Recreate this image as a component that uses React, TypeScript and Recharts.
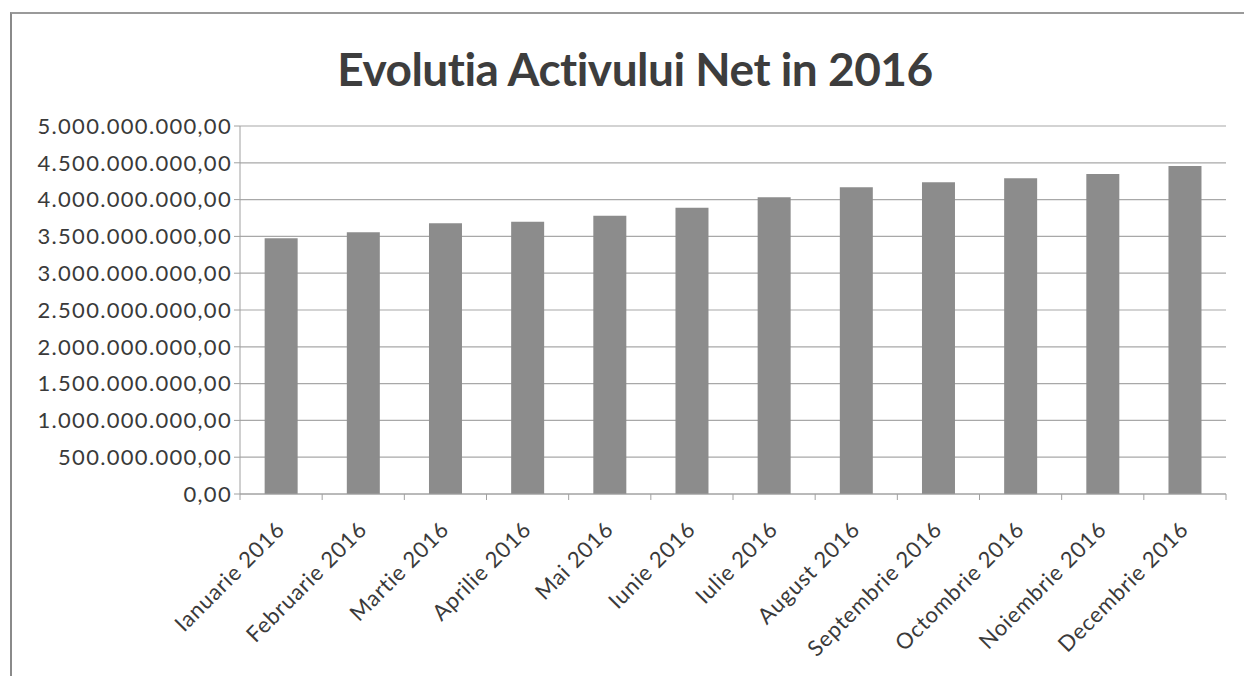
import { BarChart, Bar, XAxis, YAxis, CartesianGrid } from "recharts"

const months = [
  "Ianuarie 2016",
  "Februarie 2016",
  "Martie 2016",
  "Aprilie 2016",
  "Mai 2016",
  "Iunie 2016",
  "Iulie 2016",
  "August 2016",
  "Septembrie 2016",
  "Octombrie 2016",
  "Noiembrie 2016",
  "Decembrie 2016",
]

const activNet = [
  3474000000, 3556000000, 3678000000, 3700000000, 3781000000, 3890000000,
  4031000000, 4167000000, 4235000000, 4289000000, 4348000000, 4457000000,
]

const yTicks = [
  0, 500000000, 1000000000, 1500000000, 2000000000, 2500000000,
  3000000000, 3500000000, 4000000000, 4500000000, 5000000000,
]

const data = months.map((m, i) => ({ month: m, value: activNet[i] }))

function formatRo(v: number) {
  const whole = Math.round(v)
    .toString()
    .replace(/\B(?=(\d{3})+(?!\d))/g, ".")
  return `${whole},00`
}

const FONT = "Lato, 'Open Sans', sans-serif"
const W = 1244
const H = 676
const MARGIN = { top: 126, right: 18, bottom: 12, left: 10 }
const Y_AXIS_W = 230
// half of one category band, for the tick marks between categories
const HALF_BAND = (W - MARGIN.left - MARGIN.right - Y_AXIS_W) / months.length / 2

function MonthTick(props: any) {
  const { x, y, payload, index } = props
  const last = index === months.length - 1
  return (
    <g>
      <line x1={x - HALF_BAND} x2={x - HALF_BAND} y1={y - 8} y2={y - 2} stroke="#a0a0a0" />
      {last && (
        <line x1={x + HALF_BAND} x2={x + HALF_BAND} y1={y - 8} y2={y - 2} stroke="#a0a0a0" />
      )}
      <g transform={`translate(${x + 5},${y + 29})`}>
        <text
          x={0}
          y={0}
          textAnchor="end"
          transform="rotate(-45)"
          fontFamily={FONT}
          fontSize={22}
          letterSpacing={0.8}
          fill="#3a3a3a"
        >
          {payload.value}
        </text>
      </g>
    </g>
  )
}

export default function App() {
  return (
    <div
      style={{
        position: "absolute",
        left: 0,
        top: 0,
        width: W,
        height: H,
        background: "#fff",
        overflow: "hidden",
      }}
    >
      <div
        style={{
          position: "absolute",
          left: 10,
          top: 12,
          width: 1240,
          height: 680,
          borderLeft: "2px solid #8a8a8a",
          borderTop: "2px solid #9a9a9a",
        }}
      />
      <div
        style={{
          position: "absolute",
          left: 0,
          top: 41,
          width: 1270,
          textAlign: "center",
          fontFamily: FONT,
          fontWeight: 700,
          fontSize: 46,
          color: "#3d3d3d",
          letterSpacing: -0.5,
        }}
      >
        Evolutia Activului Net in 2016
      </div>
      <div style={{ position: "absolute", left: 0, top: 0 }}>
        <BarChart width={W} height={H} data={data} margin={MARGIN} barCategoryGap="30%">
          <CartesianGrid vertical={false} stroke="#a8a8a8" strokeWidth={1.2} />
          <XAxis
            dataKey="month"
            interval={0}
            height={170}
            tick={<MonthTick />}
            tickLine={false}
            axisLine={{ stroke: "#a0a0a0" }}
          />
          <YAxis
            width={Y_AXIS_W}
            domain={[0, 5000000000]}
            ticks={yTicks}
            tickFormatter={formatRo}
            tick={{ fontFamily: FONT, fontSize: 22, fill: "#3a3a3a", letterSpacing: 1.3 }}
            tickLine={{ stroke: "#a0a0a0" }}
            tickSize={6}
            axisLine={{ stroke: "#a0a0a0" }}
            interval={0}
          />
          <Bar dataKey="value" fill="#8c8c8c" isAnimationActive={false} />
        </BarChart>
      </div>
    </div>
  )
}
